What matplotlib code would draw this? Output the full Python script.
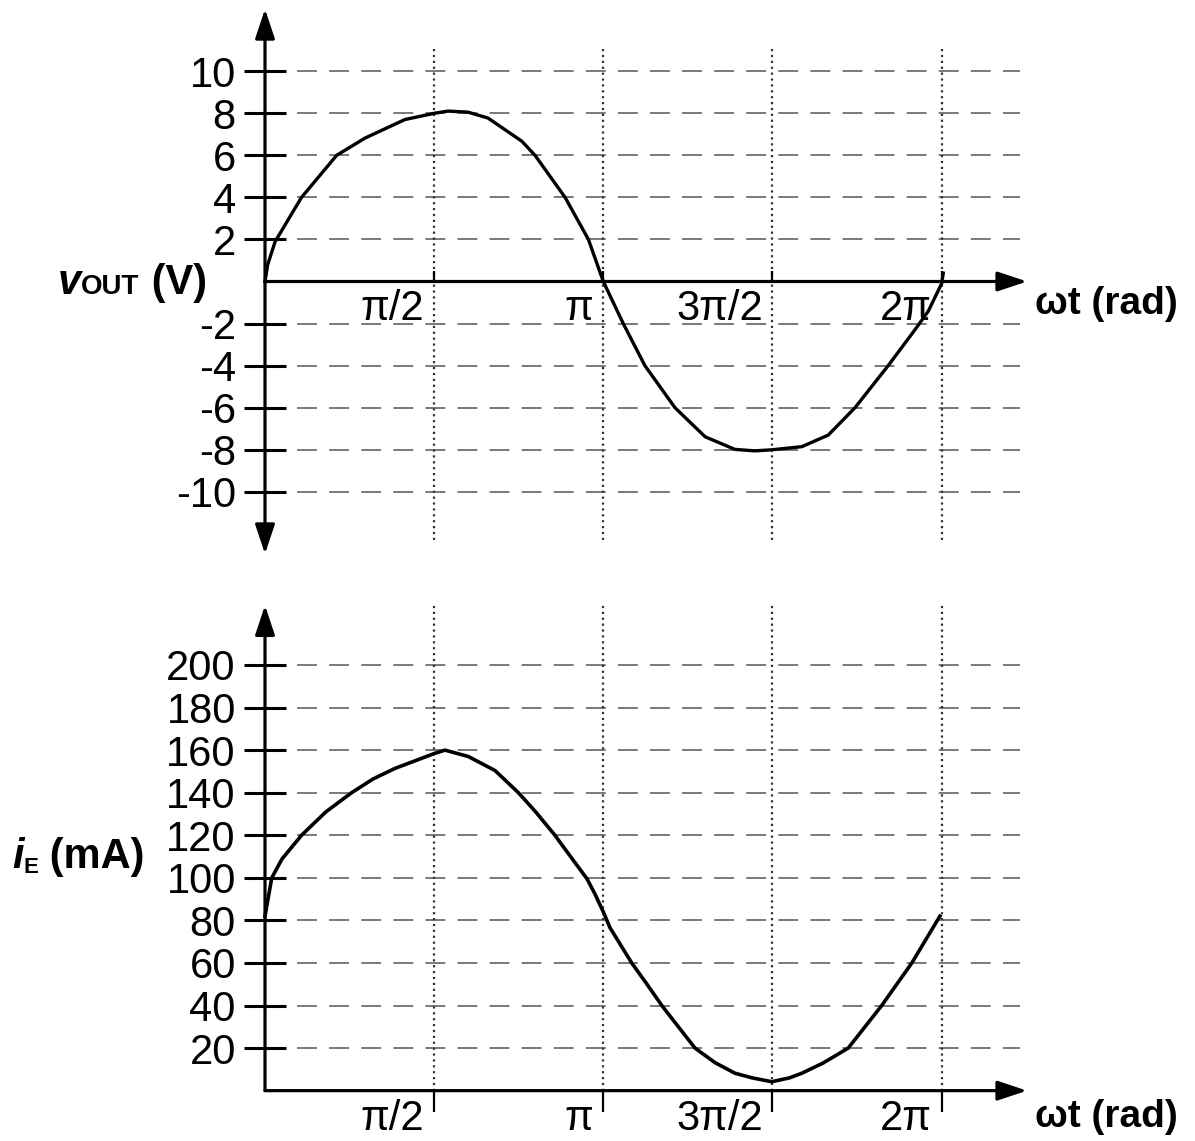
import numpy as np
import matplotlib.pyplot as plt

# top trace: v_OUT (V) vs wt, wt read in multiples of pi
wt_vout = np.array([0, 0.008, 0.03, 0.108, 0.212, 0.296, 0.414, 0.502, 0.541, 0.60,
                    0.659, 0.759, 0.798, 0.887, 0.956, 1.0, 1.059, 1.123, 1.212, 1.301,
                    1.389, 1.448, 1.498, 1.587, 1.665, 1.744, 1.842, 1.921, 1.961, 1.985,
                    2.0, 2.005]) * np.pi
vout = np.array([0, 0.8, 1.9, 4.0, 6.0, 6.82, 7.7, 8.0, 8.1, 8.05,
                 7.77, 6.67, 6.0, 4.0, 2.0, 0, -2.0, -4.0, -6.0, -7.38,
                 -7.98, -8.05, -8.0, -7.85, -7.3, -6.0, -4.0, -2.3, -1.4, -0.6,
                 -0.1, 0.4])

# bottom trace: i_E (mA) vs wt
wt_ie = np.array([0, 0.02, 0.05, 0.108, 0.18, 0.256, 0.32, 0.384, 0.502, 0.532,
                  0.601, 0.68, 0.749, 0.80, 0.857, 0.91, 0.952, 0.975, 1.0, 1.02,
                  1.084, 1.13, 1.173, 1.271, 1.33, 1.389, 1.44, 1.498, 1.55, 1.587,
                  1.65, 1.724, 1.823, 1.912, 1.995]) * np.pi
ie = np.array([82, 100, 108.8, 120, 131, 140, 146.5, 151.4, 158.5, 160,
               157, 150.4, 140, 131, 120, 108.5, 99.5, 92.5, 84, 76.5,
               60, 49.8, 40, 20, 13.2, 8.2, 6.0, 4.2, 6.0, 8.2,
               13.0, 20, 40, 60, 82])

vout_ticks = [-10, -8, -6, -4, -2, 2, 4, 6, 8, 10]
ie_ticks = [20, 40, 60, 80, 100, 120, 140, 160, 180, 200]
x_ticks = np.array([0.5, 1.0, 1.5, 2.0]) * np.pi
x_labels = ['π/2', 'π', '3π/2', '2π']

W, H = 1195, 1141
PX_PER_PI = 338.3
XMAX = 2.3 * np.pi
GRID_END = 2.232 * np.pi
ARROW_END = 2.2525 * np.pi

plt.rcParams['font.family'] = ['Liberation Sans', 'DejaVu Sans']

fig = plt.figure(figsize=(W / 100, H / 100), dpi=100)
ax_w = (XMAX / np.pi * PX_PER_PI) / W
ax1 = fig.add_axes([265 / W, 1 - 555 / H, ax_w, 547 / H])
ax2 = fig.add_axes([265 / W, 1 - 1116.2 / H, ax_w, 510.8 / H])

head = ',head_length=0.6,head_width=0.2'
arrow = dict(color='black', lw=2.3, shrinkA=0, shrinkB=0, mutation_scale=30)


def setup(ax, ylim, yticks, vgrid, xdir, xlen):
    ax.set_xlim(0, XMAX)
    ax.set_ylim(*ylim)
    for s in ax.spines.values():
        s.set_visible(False)
    ax.spines['bottom'].set_position(('data', 0))

    ax.set_yticks(yticks)
    ax.set_yticklabels([str(v) for v in yticks])
    ax.tick_params(axis='y', direction='inout', length=30, width=2.2,
                   labelsize=30, pad=6)
    ax.set_xticks(x_ticks)
    ax.set_xticklabels([])
    ax.tick_params(axis='x', direction=xdir, length=xlen, width=1.6)

    # grid
    ax.hlines(yticks, 0, GRID_END, colors='#555555', lw=1.1,
              linestyles=(0, (13, 8)), zorder=1)
    ax.vlines(x_ticks, vgrid[0], vgrid[1], colors='#333333', lw=1.6,
              linestyles=':', zorder=1)

    # x axis
    ax.annotate('', xy=(ARROW_END, 0), xytext=(0, 0), annotation_clip=False,
                arrowprops=dict(arrowstyle='-|>' + head, **arrow))

    for xt, lab in zip(x_ticks, x_labels):
        ax.annotate(lab, xy=(xt, 0), xytext=(-7, -28), textcoords='offset points',
                    ha='right', va='baseline', fontsize=30, annotation_clip=False)


setup(ax1, (-13, 13), vout_ticks, (-12.3, 11.2), 'in', 7)
setup(ax2, (-12, 228), ie_ticks, (0, 229), 'out', 15)

ax1.annotate('', xy=(0, 12.95), xytext=(0, -12.95), annotation_clip=False,
             arrowprops=dict(arrowstyle='<|-|>' + head, **arrow))
ax2.annotate('', xy=(0, 228), xytext=(0, 0), annotation_clip=False,
             arrowprops=dict(arrowstyle='-|>' + head, **arrow))

ax1.plot(wt_vout, vout, color='black', lw=2.4, clip_on=False, zorder=3)
ax2.plot(wt_ie, ie, color='black', lw=2.6, clip_on=False, zorder=3)

# axis titles, built piece by piece
fig.canvas.draw()
renderer = fig.canvas.get_renderer()


def label_run(x, y, pieces):
    for s, size, style, dy in pieces:
        t = fig.text(x / W, 1 - (y + dy) / H, s, fontsize=size, fontweight='bold',
                     fontstyle=style, ha='left', va='baseline')
        x = t.get_window_extent(renderer).x1


label_run(58, 294, [('v', 30, 'italic', 0), ('OUT', 20, 'normal', 0),
                    (' (V)', 30, 'normal', 0)])
label_run(12, 868, [('i', 30, 'italic', 0), ('E', 16, 'normal', 5),
                    (' (mA)', 30, 'normal', 0)])
label_run(1035, 314, [('ωt (rad)', 28, 'normal', 0)])
label_run(1035, 1127, [('ωt (rad)', 28, 'normal', 0)])

plt.savefig('out.png', dpi=100)
